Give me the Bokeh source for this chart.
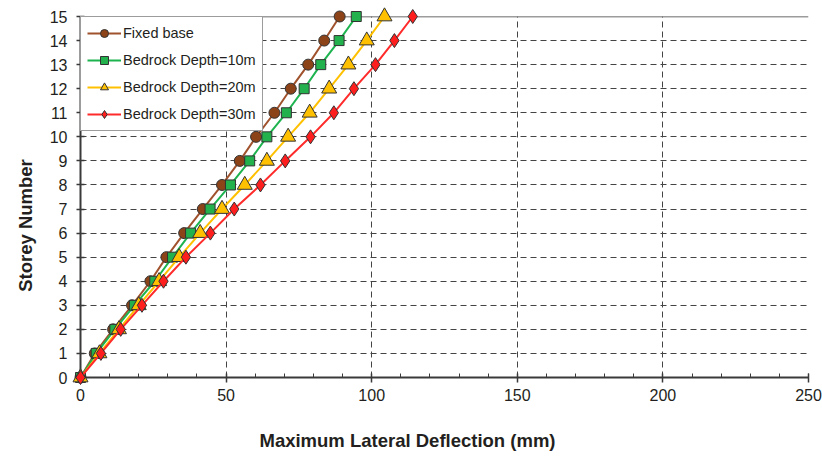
import math
from bokeh.plotting import figure
from bokeh.models import (Range1d, SingleIntervalTicker, Legend, LegendItem, Span)
from bokeh.core.properties import value
from bokeh.embed import file_html
from bokeh.resources import INLINE

storeys = list(range(16))
fixed_base = [0, 4.9, 11.2, 17.7, 24.0, 29.5, 35.6, 42.0, 48.6, 54.7, 60.3, 66.6, 72.2, 78.2, 83.7, 89.0]
depth_10m = [0, 5.4, 11.8, 18.5, 25.5, 31.6, 37.8, 44.5, 51.5, 58.1, 64.0, 70.7, 76.8, 82.5, 88.8, 94.7]
depth_20m = [0, 6.5, 13.2, 20.0, 27.0, 33.9, 41.1, 48.6, 56.4, 64.0, 71.3, 78.7, 85.4, 92.0, 98.3, 104.4]
depth_30m = [0, 7.0, 13.8, 21.1, 28.5, 36.2, 44.6, 52.8, 61.8, 70.3, 79.0, 87.0, 93.9, 101.3, 107.8, 114.1]
series_names = ["Fixed base", "Bedrock Depth=10m", "Bedrock Depth=20m", "Bedrock Depth=30m"]
x_title = "Maximum Lateral Deflection (mm)"
y_title = "Storey Number"

FONT = "Liberation Sans"
X0, X1, Y0, Y1 = 0, 250, 0, 15
FW, FH = 728, 361

p = figure(width=822, height=456, output_backend="svg", toolbar_location=None,
           x_range=Range1d(X0, X1), y_range=Range1d(Y0, Y1),
           frame_width=FW, frame_height=FH,
           min_border_left=80, min_border_right=14, min_border_top=16, min_border_bottom=79)
p.background_fill_color = "white"
p.border_fill_color = "white"
p.outline_line_color = None

# axes
p.xaxis.ticker = SingleIntervalTicker(interval=50, num_minor_ticks=5)
p.yaxis.ticker = SingleIntervalTicker(interval=1, num_minor_ticks=0)
for ax in (p.xaxis[0], p.yaxis[0]):
    ax.axis_line_color = "#3a3a3a"
    ax.axis_line_width = 2
    ax.major_tick_line_color = "#3a3a3a"
    ax.major_tick_line_width = 1.5
    ax.minor_tick_line_color = "#3a3a3a"
    ax.major_label_text_font = FONT
    ax.major_label_text_font_size = "16px"
    ax.major_label_text_color = "#231f20"
p.xaxis.major_tick_in = 4
p.xaxis.major_tick_out = 5
p.xaxis.minor_tick_in = 4
p.xaxis.minor_tick_out = 0
p.xaxis.major_label_standoff = 6
p.yaxis.major_tick_in = 4
p.yaxis.major_tick_out = 4
p.yaxis.minor_tick_in = 0
p.yaxis.minor_tick_out = 0
p.yaxis.major_label_standoff = 9

# axis titles, centred on the whole picture as in the reference (pixel -> data conversion)
def px_to_x(px):
    return X0 + (px - 80) * (X1 - X0) / FW

def py_to_y(py):
    return Y0 + (16 + FH - py) * (Y1 - Y0) / FH

p.text(x=[px_to_x(407)], y=[py_to_y(440)], text=[x_title], text_align="center",
       text_baseline="middle", text_font=value(FONT), text_font_size=value("18.5px"),
       text_font_style="bold", text_color="#231f20", level="overlay")
p.text(x=[px_to_x(25)], y=[py_to_y(225)], text=[y_title], angle=math.pi / 2,
       text_align="center", text_baseline="middle", text_font=value(FONT),
       text_font_size=value("18.5px"), text_font_style="bold", text_color="#231f20",
       level="overlay")

# grid
p.xgrid.grid_line_color = "#444444"
p.xgrid.grid_line_dash = "6 4"
p.xgrid.grid_line_width = 1
p.ygrid.grid_line_color = "#444444"
p.ygrid.grid_line_dash = "6 4"
p.ygrid.grid_line_width = 1

p.add_layout(Span(location=Y1, dimension="width", line_color="#3a3a3a", line_width=1.5))

specs = [
    (fixed_base, "#A0522D", "#8C4318", "circle", 11),
    (depth_10m, "#1DB34F", "#22B14C", "square", 10),
    (depth_20m, "#FFC000", "#FFC000", "triangle", 15),
    (depth_30m, "#FF2A2A", "#FF1E1E", "diamond", 14),
]
items = []
for (vals, lc, fc, mk, sz), name in zip(specs, series_names):
    r1 = p.line(vals, storeys, line_color=lc, line_width=2, level="overlay")
    r2 = p.scatter(vals, storeys, marker=mk, size=sz, fill_color=fc,
                   line_color="#333333", line_width=1, level="overlay")
    items.append(LegendItem(label=name, renderers=[r1, r2]))

legend = Legend(items=items, location="top_left", margin=0, padding=6, spacing=7,
                label_height=20, glyph_height=20, glyph_width=34, label_standoff=2,
                label_text_font=FONT, label_text_font_size="14.5px", label_text_color="#231f20",
                border_line_color="#3a3a3a", border_line_width=1,
                background_fill_color="white", background_fill_alpha=1.0)
p.add_layout(legend, "center")

open("out.html", "w").write(file_html(p, INLINE))
